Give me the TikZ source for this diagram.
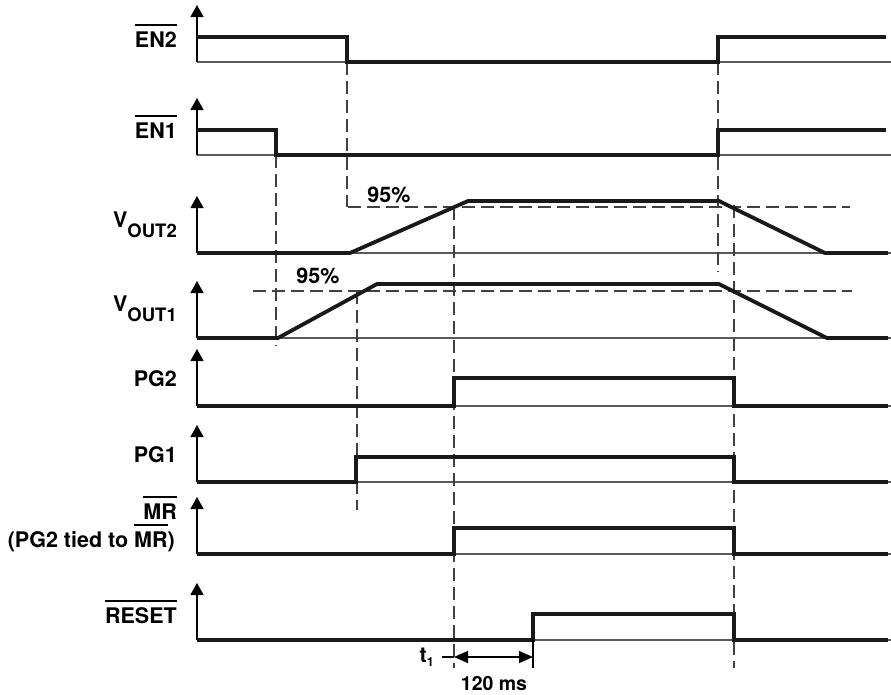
\documentclass[tikz,border=0pt]{standalone}
\usepackage{fontspec}
\setmainfont{TeX Gyre Heros}
\usetikzlibrary{arrows.meta}
\newsavebox\ovlbox
\newcommand\ovl[1]{\sbox\ovlbox{#1}\rlap{\rule[21.5pt]{\wd\ovlbox}{2pt}}\usebox\ovlbox}
\newcommand\vout[1]{V\raisebox{-10pt}{\fontsize{18.5}{20}\selectfont OUT#1}}
\begin{document}
\begin{tikzpicture}[x=1pt,y=-1pt,
  sig/.style={line width=3.8pt, color=black!90},
  base/.style={line width=1.3pt, color=black!65},
  axis/.style={line width=1.3pt, -{Triangle[width=13pt,length=12pt]}},
  guide/.style={line width=1.2pt, color=black!75, dash pattern=on 13pt off 6pt},
  dim/.style={line width=1.2pt, {Triangle[width=12pt,length=14pt]}-{Triangle[width=12pt,length=14pt]}},
  thin/.style={line width=1.2pt},
  lbl/.style={anchor=base east, font=\fontsize{21.5}{24}\selectfont\bfseries, inner sep=0pt},
  note/.style={anchor=base, font=\fontsize{21.5}{24}\selectfont\bfseries, inner sep=0pt}]
\useasboundingbox (0,0) rectangle (891,694);

% labels
\node[lbl] (lEN2) at (177,47) {\ovl{EN2}};
\node[lbl] (lEN1) at (177,138) {\ovl{EN1}};
\node[lbl] (lV2) at (177,227) {\vout{2}};
\node[lbl] (lV1) at (177,311) {\vout{1}};
\node[lbl] (lPG2) at (177,386) {PG2};
\node[lbl] (lPG1) at (177,462) {PG1};
\node[lbl] (lMR) at (177,519) {\ovl{MR}};
\node[lbl] (lTied) at (175,547) {(PG2 tied to \ovl{MR})};
\node[lbl] (lRES) at (177,623) {\ovl{RESET}};

% axes and baselines
\foreach \b in {62,155,253,338,406,482,554,640}{
  \draw[base] (197,\b) -- (891,\b);
  \draw[axis] (197,\b) -- (197,\b-57);
}

% dashed guide lines
\coordinate (g1a) at (276,155); \coordinate (g1b) at (276,346);
\coordinate (g2a) at (347,62);  \coordinate (g2b) at (347,207);
\coordinate (g3a) at (357,291); \coordinate (g3b) at (357,510);
\coordinate (g4a) at (454,207); \coordinate (g4b) at (454,668);
\coordinate (g5a) at (718,62);  \coordinate (g5b) at (718,272);
\coordinate (g6a) at (734,205); \coordinate (g6b) at (734,668);
\coordinate (h2a) at (348,207); \coordinate (h2b) at (850,207);
\coordinate (h1a) at (253,291); \coordinate (h1b) at (852,291);
\foreach \a/\b in {g1a/g1b,g2a/g2b,g3a/g3b,g4a/g4b,g5a/g5b,g6a/g6b,h2a/h2b,h1a/h1b}
  \draw[guide] (\a) -- (\b);

% signals
\draw[sig] (197,37) -- (347,37) -- (347,62) -- (718,62) -- (718,37) -- (886,37);
\draw[sig] (197,130) -- (276,130) -- (276,155) -- (718,155) -- (718,130) -- (886,130);
\draw[sig] (197,253) -- (350,253) -- (468,201) -- (719,201) -- (825,253) -- (888,253);
\draw[sig] (197,338) -- (278,338) -- (377,284) -- (719,284) -- (827,338) -- (888,338);
\draw[sig] (197,406) -- (454,406) -- (454,378) -- (734,378) -- (734,406) -- (888,406);
\draw[sig] (197,482) -- (356,482) -- (356,457) -- (734,457) -- (734,482) -- (888,482);
\draw[sig] (197,554) -- (454,554) -- (454,528) -- (734,528) -- (734,554) -- (888,554);
\draw[sig] (197,640) -- (533,640) -- (533,614) -- (734,614) -- (734,640) -- (888,640);

% percentages
\node[note] (p2) at (389,202) {95\%};
\node[note] (p1) at (318,283) {95\%};

% timing annotation
\coordinate (tA) at (454,657);
\coordinate (tB) at (533,657);
\coordinate (tT) at (442,657);
\coordinate (rTop) at (533,640);
\coordinate (rBot) at (533,668);
\draw[thin] (rTop) -- (rBot);
\draw[thin] (tT) -- (tA);
\draw[dim] (tA) -- (tB);
\node[anchor=base east, inner sep=0pt, font=\fontsize{21.5}{24}\selectfont\bfseries] (t1) at (434,662) {t\raisebox{-4pt}{\fontsize{12.5}{12}\selectfont 1}};
\node[note, font=\fontsize{19.5}{22}\selectfont\bfseries] (ms) at (494,690) {120 ms};
\end{tikzpicture}
\end{document}
